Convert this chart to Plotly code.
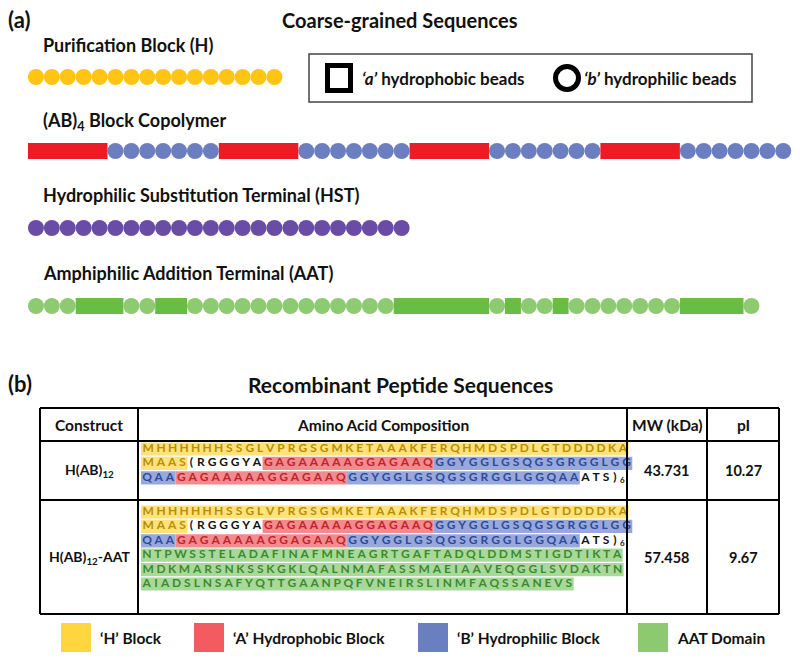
import plotly.graph_objects as go

FONT = "Lato"

# ---------------- data ----------------
# (a) coarse-grained chains as runs of 'a' (hydrophobic) and 'b' (hydrophilic) beads
cg_titles = [
    "Purification Block (H)",
    "(AB)<sub>4</sub> Block Copolymer",
    "Hydrophilic Substitution Terminal (HST)",
    "Amphiphilic Addition Terminal (AAT)",
]
cg_runs = [
    [("b", 16)],
    [("a", 5), ("b", 7), ("a", 5), ("b", 7), ("a", 5), ("b", 7), ("a", 5), ("b", 7)],
    [("b", 24)],
    [("b", 3), ("a", 3), ("b", 2), ("a", 2), ("b", 13), ("a", 6), ("b", 1), ("a", 1),
     ("b", 2), ("a", 1), ("b", 7), ("a", 4), ("b", 1)],
]
cg_colors = [  # (a colour, b colour)
    (None, "#FFC512"),
    ("#ED1C24", "#6B7EC0"),
    (None, "#6A4BA5"),
    ("#68BD45", "#8DCA70"),
]
bead_legend = ["<i>‘a’</i> hydrophobic beads", "<i>‘b’</i> hydrophilic beads"]

# (b) peptide table
table_header = ["Construct", "Amino Acid Composition", "MW (kDa)", "pI"]
constructs = ["H(AB)<sub>12</sub>", "H(AB)<sub>12</sub>-AAT"]
mw_kda = ["43.731", "57.458"]
pi_values = ["10.27", "9.67"]

# segments: (letters, domain)  H / A / B / T(AAT) / "-" plain / "sub" subscript
hab_lines = [
    [("MHHHHHHSSGLVPRGSGMKETAAAKFERQHMDSPDLGTDDDDKA", "H")],
    [("MAAS", "H"), ("(RGGGYA", "-"), ("GAGAAAAAGGAGAAQ", "A"), ("GGYGGLGSQGSGRGGLGG", "B")],
    [("QAA", "B"), ("GAGAAAAAGGAGAAQ", "A"), ("GGYGGLGSQGSGRGGLGGQAA", "B"),
     ("ATS)", "-"), ("6", "sub")],
]
aat_lines = [
    [("NTPWSSTELADAFINAFMNEAGRTGAFTADQLDDMSTIGDTIKTA", "T")],
    [("MDKMARSNKSSKGKLQALNMAFASSMAEIAAVEQGGLSVDAKTN", "T")],
    [("AIADSLNSAFYQTTGAANPQFVNEIRSLINMFAQSSANEVS", "T")],
]
row_sequences = [hab_lines, hab_lines + aat_lines]

legend_keys = ["H", "A", "B", "T"]
legend_labels = ["‘H’ Block", "‘A’ Hydrophobic Block", "‘B’ Hydrophilic Block", "AAT Domain"]

# ---------------- styles / geometry ----------------
highlight = {"H": "#FFE27C", "A": "#F38A8E", "B": "#99A8DA", "T": "#A8D99A"}
letter_col = {"H": "#B88E00", "A": "#C0232B", "B": "#2C4A9C", "T": "#3B8B2D", "-": "#111111"}
legend_col = {"H": "#FFD640", "A": "#F25B5F", "B": "#6A7FBF", "T": "#8DCA6F"}

# approximate glyph advances (per 1000 em) to space the letters like the original
CHAR_W = {"A": 606, "C": 529, "D": 630, "E": 488, "F": 459, "G": 637, "H": 631, "I": 267,
          "K": 537, "L": 423, "M": 874, "N": 659, "P": 532, "Q": 676, "R": 563, "S": 473,
          "T": 495, "V": 591, "W": 890, "Y": 520, "(": 312, ")": 312}
EM, GAP, SEQ_X0 = 11.3, 4.4, 141

CG_X0, CG_UNIT, BEAD = 28, 15.9, 16
CG_ROW_Y = [77, 151, 228, 306]
CG_TITLE_Y = [45, 121, 195, 273]

TX = [40, 138, 627, 707, 779]
TY = [408, 441, 500, 614]
ROW_FIRST_Y = [449, 512]
LINE_STEP = 14.4

fig = go.Figure()
shapes, annotations = [], []


def text(x, y, s, size, xanchor="left", color="#111111"):
    annotations.append(dict(x=x, y=y, text="<b>" + s + "</b>", showarrow=False,
                            xanchor=xanchor, yanchor="middle",
                            font=dict(family=FONT, size=size, color=color)))


# ---------------- (a) ----------------
text(6, 19, "(a)", 22)
text(400, 20, "Coarse-grained Sequences", 20, xanchor="center")

for title, runs, (col_a, col_b), ry, ty in zip(cg_titles, cg_runs, cg_colors, CG_ROW_Y, CG_TITLE_Y):
    text(41, ty, title, 18)
    bx = []
    i = 0
    for kind, n in runs:
        if kind == "b":
            bx += [CG_X0 + (i + k + 0.5) * CG_UNIT for k in range(n)]
        else:
            shapes.append(dict(type="rect", x0=CG_X0 + i * CG_UNIT, x1=CG_X0 + (i + n) * CG_UNIT,
                               y0=ry - 8, y1=ry + 8, fillcolor=col_a, line_width=0, layer="above"))
        i += n
    fig.add_trace(go.Scatter(x=bx, y=[ry] * len(bx), mode="markers", hoverinfo="skip",
                             marker=dict(size=BEAD, color=col_b, line_width=0)))

# bead legend box
shapes.append(dict(type="rect", x0=309, x1=752, y0=54, y1=102,
                   line=dict(color="#444444", width=1.5), fillcolor="rgba(0,0,0,0)"))
shapes.append(dict(type="rect", x0=327.5, x1=350.5, y0=65.5, y1=90.5,
                   line=dict(color="black", width=5), fillcolor="white"))
shapes.append(dict(type="circle", x0=555.5, x1=578.5, y0=66.5, y1=89.5,
                   line=dict(color="black", width=5), fillcolor="white"))
text(360, 78, bead_legend[0], 17)
text(582, 78, bead_legend[1], 17)

# ---------------- (b) ----------------
text(6, 383, "(b)", 22)
text(400, 384, "Recombinant Peptide Sequences", 21, xanchor="center")

# table grid
for x in TX:
    shapes.append(dict(type="line", x0=x, x1=x, y0=TY[0], y1=TY[-1], line=dict(color="black", width=2)))
for y in TY:
    shapes.append(dict(type="line", x0=TX[0], x1=TX[-1], y0=y, y1=y, line=dict(color="black", width=2)))

for j, h in enumerate(table_header):
    text((TX[j] + TX[j + 1]) / 2, (TY[0] + TY[1]) / 2, h, 15.5, xanchor="center")

for r in range(2):
    cy = (TY[r + 1] + TY[r + 2]) / 2
    text((TX[0] + TX[1]) / 2, cy, constructs[r], 14, xanchor="center")
    text((TX[2] + TX[3]) / 2, cy, mw_kda[r], 14.5, xanchor="center")
    text((TX[3] + TX[4]) / 2, cy, pi_values[r], 14.5, xanchor="center")

# sequence letters, laid out one by one with highlight bands per domain
letters = {k: ([], [], []) for k in letter_col}
subs = ([], [], [])
for r, lines in enumerate(row_sequences):
    for li, segs in enumerate(lines):
        y = ROW_FIRST_Y[r] + li * LINE_STEP
        x = SEQ_X0 + GAP / 2
        for seg, kind in segs:
            if kind == "sub":
                subs[0].append(x - 1)
                subs[1].append(y + 3)
                subs[2].append(seg)
                continue
            seg_x0 = x - GAP / 2
            for ch in seg:
                w = CHAR_W.get(ch, 540) * EM / 1000
                letters[kind][0].append(x + w / 2)
                letters[kind][1].append(y)
                letters[kind][2].append(ch)
                x += w + GAP
            if kind in highlight:
                shapes.append(dict(type="rect", x0=seg_x0, x1=x - GAP / 2, y0=y - 6.6, y1=y + 6.6,
                                   fillcolor=highlight[kind], line_width=0, layer="below"))

for kind, (xs, ys, ts) in letters.items():
    fig.add_trace(go.Scatter(x=xs, y=ys, text=ts, mode="text", hoverinfo="skip",
                             textposition="middle center",
                             textfont=dict(family=FONT, size=12, color=letter_col[kind], weight="bold")))
fig.add_trace(go.Scatter(x=subs[0], y=subs[1], text=subs[2], mode="text", hoverinfo="skip",
                         textposition="middle right",
                         textfont=dict(family=FONT, size=8, color="#111111", weight="bold")))

# colour key below the table
key_x = [61, 194, 418, 638]
for kx, key, lab in zip(key_x, legend_keys, legend_labels):
    shapes.append(dict(type="rect", x0=kx, x1=kx + 30, y0=623, y1=652,
                       fillcolor=legend_col[key], line_width=0))
    text(kx + 37, 638, lab, 15.5)

fig.update_layout(
    width=800, height=661,
    margin=dict(l=0, r=0, t=0, b=0),
    paper_bgcolor="white", plot_bgcolor="white",
    showlegend=False,
    xaxis=dict(range=[0, 800], visible=False, fixedrange=True),
    yaxis=dict(range=[661, 0], visible=False, fixedrange=True),
    shapes=shapes, annotations=annotations,
)

# the page's default body margin would shift the drawing by 8px
fig.write_html("out.html", config={"displayModeBar": False},
               post_script="document.body.style.margin = '0';")
